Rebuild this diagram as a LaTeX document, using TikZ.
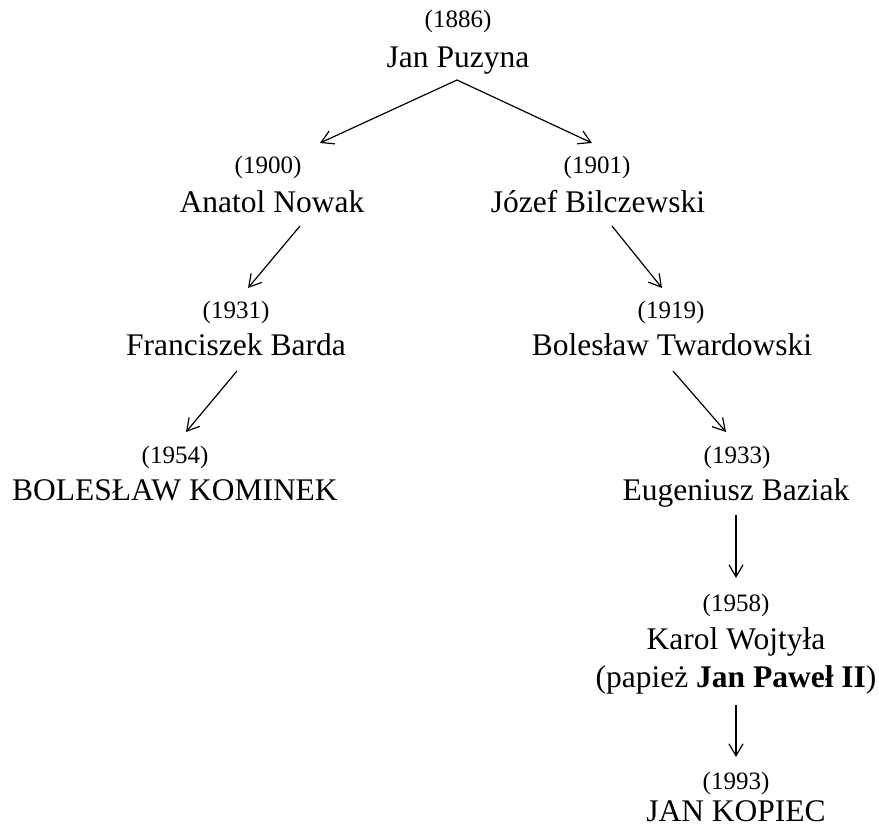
\documentclass[tikz,border=0pt]{standalone}
\usepackage{fontspec}
\setmainfont{Liberation Serif}
\usetikzlibrary{arrows.meta}
\begin{document}
\begin{tikzpicture}[x=1pt,y=-1pt,
  yr/.style={anchor=base,inner sep=0pt,font=\fontsize{25}{29}\selectfont},
  nm/.style={anchor=base,inner sep=0pt,font=\fontsize{31.5}{36}\selectfont},
  arr/.style={-{Straight Barb[length=12pt,width=14pt]},line width=1.2pt}]
\useasboundingbox (0,0) rectangle (879,830);
% row 0
\node[yr] (y1886) at (458,27) {(1886)};
\node[nm] (puz) at (458,67) {Jan Puzyna};
% row 1
\node[yr] (y1900) at (268,173) {(1900)};
\node[nm] (now) at (272,212) {Anatol Nowak};
\node[yr] (y1901) at (597,173) {(1901)};
\node[nm] (bil) at (598,212) {Józef Bilczewski};
% row 2
\node[yr] (y1931) at (236,318) {(1931)};
\node[nm] (bar) at (236,355) {Franciszek Barda};
\node[yr] (y1919) at (671,318) {(1919)};
\node[nm] (twa) at (672,355) {Bolesław Twardowski};
% row 3
\node[yr] (y1954) at (175,463) {(1954)};
\node[nm] (kom) at (175,500) {BOLESŁAW KOMINEK};
\node[yr] (y1933) at (737,463) {(1933)};
\node[nm] (baz) at (736,500) {Eugeniusz Baziak};
% row 4
\node[yr] (y1958) at (736,611) {(1958)};
\node[nm] (woj) at (736,649) {Karol Wojtyła};
\node[nm] (pap) at (736,687) {(papież \textbf{Jan Paweł II})};
% row 5
\node[yr] (y1993) at (736,789) {(1993)};
\node[nm] (kop) at (736,821) {JAN KOPIEC};
% connectors
\draw[arr] ([shift={(-1,13)}]puz.base) -- ([shift={(52,-30)}]y1900.base);
\draw[arr] ([shift={(-1,13)}]puz.base) -- ([shift={(-5,-30)}]y1901.base);
\draw[arr] ([shift={(28,14)}]now.base) -- ([shift={(12,-30)}]y1931.base);
\draw[arr] ([shift={(14,14)}]bil.base) -- ([shift={(-9,-30)}]y1919.base);
\draw[arr] ([shift={(1,16)}]bar.base) -- ([shift={(11,-31)}]y1954.base);
\draw[arr] ([shift={(1,16)}]twa.base) -- ([shift={(-11,-31)}]y1933.base);
\draw[arr] ([shift={(0,15)}]baz.base) -- ([shift={(0,-33)}]y1958.base);
\draw[arr] ([shift={(0,18)}]pap.base) -- ([shift={(0,-32)}]y1993.base);
\end{tikzpicture}
\end{document}
